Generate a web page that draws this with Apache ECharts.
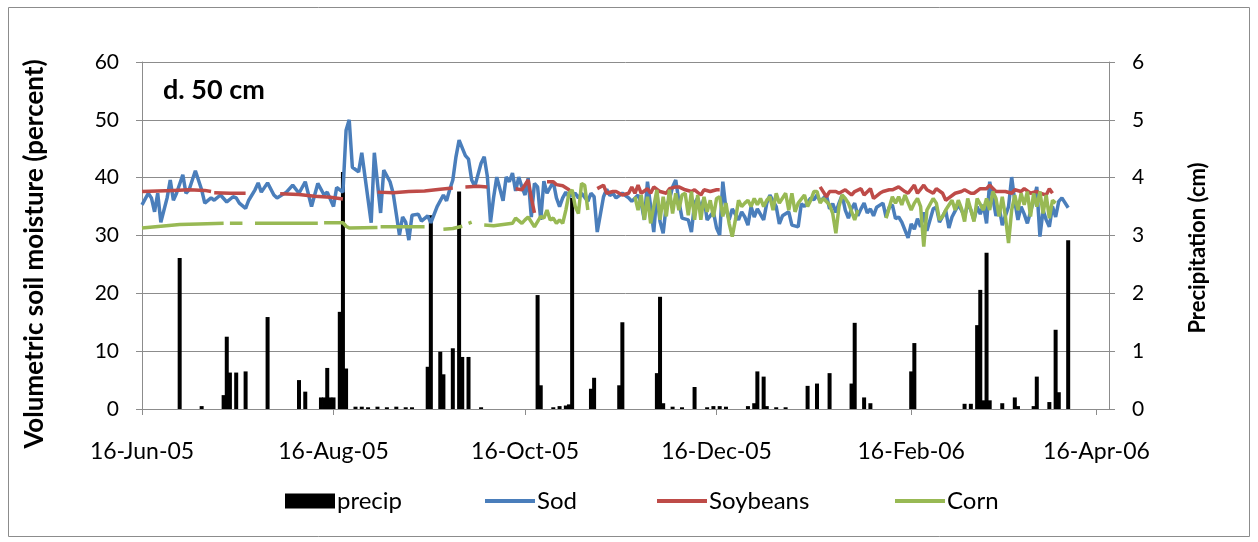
<!DOCTYPE html>
<html>
<head>
<meta charset="utf-8">
<script src="https://cdn.jsdelivr.net/npm/echarts@6/dist/echarts.min.js"></script>
<style>
html,body{margin:0;padding:0;background:#fff;}
#chart{width:1258px;height:542px;}
</style>
</head>
<body>
<div id="chart"></div>
<script>
// Dates are day offsets from 16-Jun-2005
const startDate = [2005, 5, 16];
const xTickDays = [0, 61, 122, 183, 245, 304]; // 16-Jun-05 ... 16-Apr-06
const xMaxDay = 308;
const leftTicks = [0, 10, 20, 30, 40, 50, 60];
const rightTicks = [0, 1, 2, 3, 4, 5, 6];

// precipitation (cm), [day, value]
const precip = [[12,2.61],[19,0.05],[26,0.24],[27,1.25],[28,0.63],[30,0.63],[33,0.65],[40,1.59],[50,0.5],[52,0.3],[57,0.2],[58,0.2],[59,0.71],[60,0.2],[61,0.2],[63,1.68],[64,4.1],[65,0.7],[68,0.04],[70,0.04],[72,0.03],[75,0.04],[78,0.03],[81,0.04],[84,0.03],[86,0.03],[91,0.73],[92,3.35],[95,0.99],[96,0.6],[99,1.05],[101,3.76],[102,0.9],[104,0.9],[108,0.03],[126,1.97],[127,0.41],[131,0.03],[133,0.05],[135,0.06],[136,0.08],[137,3.65],[143,0.35],[144,0.54],[152,0.41],[153,1.5],[164,0.62],[165,1.94],[166,0.1],[169,0.04],[172,0.03],[176,0.38],[180,0.03],[182,0.05],[184,0.05],[186,0.04],[193,0.05],[195,0.1],[196,0.65],[198,0.56],[199,0.05],[202,0.03],[205,0.03],[212,0.4],[215,0.44],[219,0.62],[226,0.44],[227,1.49],[230,0.2],[232,0.1],[245,0.65],[246,1.14],[262,0.09],[264,0.09],[266,1.45],[267,2.06],[268,0.15],[269,2.7],[270,0.15],[274,0.1],[278,0.2],[279,0.05],[284,0.05],[285,0.56],[289,0.12],[291,1.37],[292,0.29],[295,2.92]];

// Sod soil moisture (%), [day, value]
const sod = [[0,35.3],[2,37.3],[3,36.5],[4,34.1],[5,37.3],[6,32.3],[8,36.5],[9,39.6],[10,36.1],[11,37.3],[13,40.5],[14,37.3],[15,37.9],[17,41.2],[19,37.9],[20,35.6],[22,36.5],[23,36.1],[25,37],[27,35.8],[29,36.7],[30,36.5],[31,35.6],[33,34.7],[34,36.1],[36,37.9],[37,39.1],[38,37.5],[40,39.1],[42,37],[43,36.5],
[46,37.5],[48,38.7],[50,37.3],[52,39.3],[54,35],[56,39],[58,37],[59,37.5],[61,35],[62,38.3],[64,37.5],[65,48.2],[66,50],[67,41.8],[69,41],[70,44.3],[73,32.2],[74,44.3],[76,33.9],[77,41.3],[79,39.3],[80,37.3],[82,30.1],[83,33.2],[84,32.3],[85,29.2],[86,33.5],
[88,33.7],[89,32.5],[91,33.4],[92,32.2],[94,35],[96,37],[97,36],[98,37.9],[99,39.6],[100,43.6],[101,46.5],[103,43.8],[104,43.2],[105,39.6],[106,38.5],[108,42.5],[109,43.6],[110,40.2],[111,32.3],[112,36.6],[113,40.1],[115,36],[116,40.1],[117,39.3],[118,40.8],[119,37.7],[120,40.1],[121,38.4],[122,37],[123,39.9],[124,33.2],[125,39],[126,38.4],[127,32.7],[128,39.4],
[129,37.3],[131,39.3],[132,36.5],[133,35],[134,36.5],[135,37.5],[136,36.7],[138,37.3],[139,36.5],[140,37.3],[142,35.9],[143,37.3],[144,36.7],[145,30.6],[147,36.7],[148,38],[149,36.9],[150,37.3],[151,36.5],[153,37.3],[155,36.5],[156,35.9],[158,37],[159,35.6],[160,32.7],[161,39.3],[162,35],[163,30.6],[164,37.3],[165,32.4],[166,30.4],[167,35.3],[168,36.2],[169,38.4],[170,39.6],[171,35.9],[172,33],
[174,32.7],[175,30.6],[176,35.6],[177,36.5],[178,34.6],[179,36.5],[180,32.7],[182,34.1],[183,31.3],[184,30.1],[185,39.3],[186,34.6],[187,32.7],[188,34.6],[190,32.7],[191,34.1],[192,33.2],[193,31.8],[194,35],[195,33.2],[196,34.6],[198,32.7],[199,35.6],[200,37],[202,35],[203,32],[204,33.4],[206,34.1],[207,31.8],[209,31.5],[210,35.5],[211,35],[213,36.5],[214,36.2],[215,37],
[216,35.9],[218,37],[219,34.6],[220,35.5],[221,34],[222,35.6],[223,37],[224,34.4],[225,33],[226,34.6],[227,35.6],[228,33.4],[229,34.6],[230,35.6],[231,33.9],[232,34.6],[233,33.4],[234,34.9],[236,35.6],[237,33.2],[238,34.9],[239,35.3],[240,32.9],[241,33.2],[242,32.3],[244,29.6],[245,32],[246,31.1],[247,32.9],[248,31.5],[249,34],[250,30.8],[252,34.6],[253,34.9],[254,32.3],[256,34.3],
[257,31.3],[258,33.2],[260,35.3],[261,34.4],[262,33.2],[263,35.6],[264,34.4],[265,32.7],[266,35],[267,33.7],[268,35.3],[269,32.1],[270,39.3],[271,36.5],[272,33.4],[273,35],[274,31.8],[276,35],[277,40.1],[278,35.9],[279,32.7],[280,35],[281,33.7],[282,32.1],[284,36.1],[285,38.4],[286,29.8],[287,34.4],[288,32.7],[289,31.5],[290,35],[291,33.2],[292,35.9],[293,36.5],[295,34.8]];

// Soybeans soil moisture (%), [day, value]; null = missing
const soybeans = [[0,37.6],[5,37.7],[10,37.8],[15,37.9],[20,37.8],[22,37.6],[22.5,null],
[23,37.4],[28,37.3],[33,37.3],[34,null],
[44,37.2],[50,37.1],[55,36.8],[60,36.6],[64,36.3],[65,null],
[75,37.5],[80,37.4],[85,37.6],[90,37.7],[95,38.0],[99,38.2],[100,null],
[103,38.4],[107,38.5],[110,38.4],[111,null],
[119,38.1],[121,37.9],[123,39.6],[124,36.5],[125,33.9],[126,null],
[129,39.3],[131,39.3],[132,38.8],[134,38.6],[136,37.9],[137,37.3],[138,null],
[145,38.1],[147,38.7],[148,37.3],[150,37.6],[151,37.6],[153,37.0],[155,37.3],[156,38.4],[157,37.3],[158,38.7],[159,37.3],[161,38.1],[162,37.3],[163,38.4],[165,37.6],[167,37.3],[168,38.1],[170,38.4],[171,38.4],[173,37.9],[175,37.6],[176,37.9],[178,37.0],[179,37.9],[181,37.6],[183,37.9],[184,37.9],[185,null],
[216,38.4],[218,36.7],[219,37.6],[221,37.6],[222,37.3],[224,37.9],[226,37.0],[227,37.6],[229,38.1],[230,37.0],[232,38.1],[233,36.4],[235,37.3],[236,37.6],[238,37.9],[239,37.9],[241,38.4],[243,37.6],[244,37.3],[246,38.7],[247,37.3],[249,38.7],[250,37.9],[252,37.3],[253,38.1],[255,37.3],[256,36.1],[257,36.5],[259,37.3],[261,37.6],[262,37.9],[264,37.3],[265,37.3],[267,38.1],[269,38.1],[270,38.7],[272,37.6],[273,37.6],[275,37.6],[277,37.3],[278,37.9],[280,37.6],[281,38.1],[283,37.3],[285,37.6],[286,37.3],[288,37.0],[289,38.1],[290,37.3]];

// Corn soil moisture (%), [day, value]; null = missing
const corn = [[0,31.3],[6,31.6],[12,31.9],[18,32.0],[26,32.1],[26.5,null],
[28,32.1],[32,32.1],[33,null],
[36,32.1],[45,32.1],[56,32.1],[57,null],
[58,32.2],[64,32.2],[65,31.6],[66,31.3],[75,31.4],[75.5,null],
[76,31.5],[90,31.5],[91,null],
[96,31.1],[99,31.2],[102,31.6],[103,null],
[104,32.1],[105,32.3],[106,null],
[109,31.8],[112,31.7],[115,31.9],[118,32.1],[119,33.0],[121,32.1],[122,32.7],[123,33.2],[125,31.5],[127,33.3],[128,33.0],[129,34.4],[130,32.7],[131,33.0],[132,32.1],[133,32.7],[134,32.1],[135,34.4],[136,37.3],[137,37.9],[138,35.0],[139,33.8],[140,39.0],[141,38.7],[142,34.4],[143,null],
[157,36.7],[158,34.4],[159,37.0],[160,32.7],[161,36.7],[162,32.1],[164,37.9],[165,32.7],[166,36.7],[167,33.3],[168,37.9],[169,33.8],[170,37.3],[171,34.4],[172,37.0],[173,37.3],[174,33.5],[175,37.6],[176,32.7],[177,37.0],[178,32.7],[179,36.7],[180,34.1],[181,36.1],[182,33.2],[183,36.4],[184,36.7],[185,33.3],[186,35.6],[187,32.1],[188,29.8],[189,32.7],[190,36.1],[191,35.0],[192,35.6],[193,36.1],[194,35.0],[195,36.4],[196,35.3],[197,36.4],[198,35.0],[199,36.1],[200,36.7],[201,34.4],[202,37.3],[203,35.6],[205,37.3],[206,34.4],[207,37.3],[208,34.1],[209,35.6],[211,37.0],[212,35.0],[213,36.1],[214,37.6],[215,37.6],[216,35.6],[217,36.4],[219,35.3],[220,33.8],[221,30.4],[222,35.0],[223,37.0],[224,36.4],[225,35.6],[227,32.7],[228,34.4],[229,null],
[237,33.0],[239,36.7],[240,35.6],[241,36.7],[242,35.3],[243,37.0],[245,34.4],[246,35.6],[247,36.4],[248,35.0],[249,28.1],[250,34.4],[252,36.4],[253,35.6],[254,32.7],[255,33.3],[256,34.4],[258,36.1],[259,34.4],[260,36.1],[261,34.7],[262,32.4],[263,36.4],[265,32.4],[266,36.4],[268,34.4],[269,36.4],[270,34.4],[271,37.6],[272,36.4],[273,33.3],[274,36.7],[275,33.3],[276,28.7],[277,34.4],[278,37.0],[279,34.4],[280,37.3],[281,35.3],[282,37.6],[283,33.3],[284,37.3],[285,35.0],[286,37.6],[287,33.8],[288,37.0],[289,33.0],[290,36.1],[291,35.6]];

const DAY = 86400000;
const T0 = Date.UTC(startDate[0], startDate[1], startDate[2]);
const months = ['Jan','Feb','Mar','Apr','May','Jun','Jul','Aug','Sep','Oct','Nov','Dec'];
function fmtDay(dayOffset) {
  const d = new Date(T0 + dayOffset * DAY);
  return d.getUTCDate() + '-' + months[d.getUTCMonth()] + '-' + String(d.getUTCFullYear()).slice(2);
}
const conv = arr => arr.map(p => [p[0], p[1] === null ? '-' : p[1]]);

const FONT = 'Lato';
const gridColor = '#8c8c8c';
const colors = {precip: '#000000', Sod: '#4a7ebb', Soybeans: '#be4b48', Corn: '#98b954'};
const lineIcon = 'path://M0,0H50V4H0Z';

function legendFor(name, left, icon) {
  return {
    left: left, top: 484, itemWidth: 50, itemHeight: 15, itemGap: 0,
    symbolKeepAspect: true,
    textStyle: {fontFamily: FONT, fontSize: 24, color: '#000', padding: [0, 0, 0, -3]},
    data: [{name: name, icon: icon, itemStyle: {color: colors[name]}}]
  };
}

const chart = echarts.init(document.getElementById('chart'), null, {renderer: 'canvas'});
chart.setOption({
  animation: false,
  backgroundColor: '#fff',
  textStyle: {fontFamily: FONT, color: '#000'},
  grid: {left: 142, right: 149, top: 62, bottom: 133, containLabel: false},
  graphic: [
    {type: 'rect', shape: {x: 8.5, y: 7.5, width: 1241, height: 529}, style: {fill: 'none', stroke: '#8c8c8c', lineWidth: 1}, silent: true, z: -1},
    {type: 'text', x: 163, y: 90, style: {text: 'd. 50 cm', font: 'bold 27px ' + FONT, fill: '#000', verticalAlign: 'middle'}},
    {type: 'text', x: 35, y: 254, rotation: Math.PI / 2, style: {text: 'Volumetric soil moisture (percent)', font: 'bold 26px ' + FONT, fill: '#000', align: 'center', verticalAlign: 'middle'}},
    {type: 'text', x: 1198, y: 248, rotation: Math.PI / 2, style: {text: 'Precipitation (cm)', font: 'bold 22px ' + FONT, fill: '#000', align: 'center', verticalAlign: 'middle'}}
  ],
  legend: [
    legendFor('precip', 280, 'rect'),
    legendFor('Sod', 480, lineIcon),
    legendFor('Soybeans', 652, lineIcon),
    legendFor('Corn', 890, lineIcon)
  ],
  xAxis: {
    type: 'value',
    min: 0, max: xMaxDay,
    splitLine: {show: false},
    axisLine: {show: true, onZero: false, lineStyle: {color: gridColor, width: 1}},
    axisTick: {show: true, length: 6, inside: false, lineStyle: {color: gridColor}, customValues: xTickDays},
    axisLabel: {customValues: xTickDays, formatter: v => fmtDay(v), fontFamily: FONT, fontSize: 23, color: '#000', margin: 31, hideOverlap: false}
  },
  yAxis: [
    {
      type: 'value', min: 0, max: 60, interval: 10,
      axisLine: {show: true, lineStyle: {color: gridColor}},
      axisTick: {show: true, length: 6, lineStyle: {color: gridColor}},
      splitLine: {show: true, lineStyle: {color: gridColor, width: 1}},
      axisLabel: {fontFamily: FONT, fontSize: 21, color: '#000', margin: 23, formatter: v => leftTicks.includes(v) ? String(v) : ''}
    },
    {
      type: 'value', min: 0, max: 6, interval: 1, position: 'right',
      axisLine: {show: true, lineStyle: {color: gridColor}},
      axisTick: {show: true, length: 6, lineStyle: {color: gridColor}},
      splitLine: {show: false},
      axisLabel: {fontFamily: FONT, fontSize: 21, color: '#000', margin: 23, formatter: v => rightTicks.includes(v) ? String(v) : ''}
    }
  ],
  series: [
    {name: 'precip', type: 'bar', yAxisIndex: 1, data: conv(precip), barWidth: 4,
     itemStyle: {color: colors.precip}, z: 2},
    {name: 'Sod', type: 'line', data: conv(sod), showSymbol: false, symbol: 'none', connectNulls: false,
     lineStyle: {color: colors.Sod, width: 3.5}, itemStyle: {color: colors.Sod}, z: 3},
    {name: 'Soybeans', type: 'line', data: conv(soybeans), showSymbol: false, symbol: 'none', connectNulls: false,
     lineStyle: {color: colors.Soybeans, width: 3.5}, itemStyle: {color: colors.Soybeans}, z: 4},
    {name: 'Corn', type: 'line', data: conv(corn), showSymbol: false, symbol: 'none', connectNulls: false,
     lineStyle: {color: colors.Corn, width: 3.5}, itemStyle: {color: colors.Corn}, z: 5}
  ]
});
</script>
</body>
</html>
